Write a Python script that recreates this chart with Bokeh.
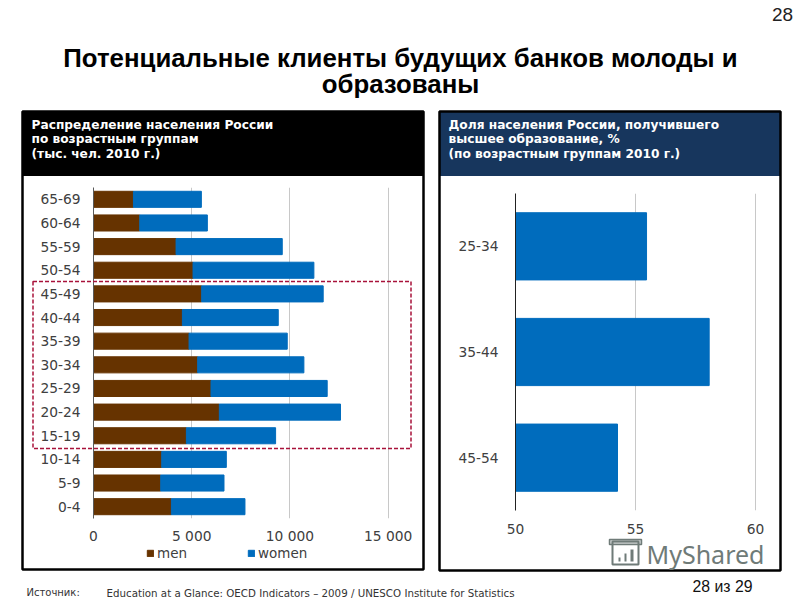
from bokeh.plotting import figure
from bokeh.layouts import column
from bokeh.models import (ColumnDataSource, FactorRange, FixedTicker, Legend, LegendItem, Range1d)
from bokeh.embed import file_html
from bokeh.resources import INLINE
from bokeh.core.properties import value

# ---------- data ----------
ages = ["0-4", "5-9", "10-14", "15-19", "20-24", "25-29", "30-34", "35-39",
        "40-44", "45-49", "50-54", "55-59", "60-64", "65-69"]
men = [3966, 3424, 3475, 4729, 6407, 5983, 5305, 4865, 4526, 5509, 5068, 4204, 2356, 2034]
women = [3746, 3220, 3288, 4543, 6170, 5916, 5407, 5000, 4881, 6186, 6153, 5407, 3441, 3458]
pop_ticks = [0, 5000, 10000, 15000]
pop_tick_labels = ["0", "5 000", "10 000", "15 000"]

edu_groups = ["45-54", "35-44", "25-34"]
edu_share = [54.25, 58.07, 55.46]
edu_ticks = [50, 55, 60]

title_lines = ["Потенциальные клиенты будущих банков молоды и", "образованы"]
left_head = ["Распределение населения России", "по возрастным группам", "(тыс. чел. 2010 г.)"]
right_head = ["Доля населения России, получившего", "высшее образование, %", "(по возрастным группам 2010 г.)"]

MEN_C, WOMEN_C = "#663300", "#006cbd"
AXIS_FONT = "DejaVu Sans"
W, H = 800, 600


def sheet():
    f = figure(width=W, height=H, x_range=Range1d(0, W), y_range=Range1d(H, 0),
               output_backend="svg", toolbar_location=None, min_border=0, frame_align=False,
               x_axis_type=None, y_axis_type=None, outline_line_color=None,
               background_fill_color=None, border_fill_color=None)
    f.grid.visible = False
    return f


def put(f, x, y, txt, size, color="#000000", font="Liberation Sans", style="normal", align="left", alpha=1):
    f.text([x], [y], text=[txt], text_font=value(font), text_font_size=size, text_color=color,
           text_font_style=style, text_align=align, text_baseline="middle", text_alpha=alpha)


def box(f, l, t, r, b, **kw):
    f.quad(left=[l], right=[r], top=[t], bottom=[b], **kw)


def place(f, x, y):
    f.styles = {"position": "absolute", "left": f"{x}px", "top": f"{y}px"}


# ---------- background sheet ----------
bg = sheet()
bg.background_fill_color = "#ffffff"
put(bg, 400, 57, title_lines[0], "25.8px", style="bold", align="center")
put(bg, 400, 83, title_lines[1], "25.8px", style="bold", align="center")
put(bg, 782, 14, "28", "19px", color="#222222", align="center")
put(bg, 26, 592, "Источник:", "10px", color="#333333", font="DejaVu Sans")
put(bg, 106, 592, "Education at a Glance: OECD Indicators – 2009 / UNESCO Institute for Statistics",
    "10.27px", color="#333333", font="DejaVu Sans")
put(bg, 722, 586, "28 из 29", "15.8px", color="#111111", align="center")

for (l, r, b, col, lines) in [(22, 423, 569, "#000000", left_head), (439, 780, 570, "#17365d", right_head)]:
    box(bg, l, 111, r, 175, fill_color=col, line_color=col)
    box(bg, l, 111, r, b, fill_alpha=0, line_color="#000000", line_width=2.5)
    for yy, txt in zip([124, 138, 153], lines):
        put(bg, l + 9, yy, txt, "12.2px", color="#ffffff", font="DejaVu Sans", style="bold")

d_men = bg.quad(left=[float("nan")], right=[float("nan")], top=[float("nan")], bottom=[float("nan")],
                fill_color=MEN_C, line_color=MEN_C)
d_wom = bg.quad(left=[float("nan")], right=[float("nan")], top=[float("nan")], bottom=[float("nan")],
                fill_color=WOMEN_C, line_color=WOMEN_C)
leg = Legend(items=[LegendItem(label="men", renderers=[d_men]), LegendItem(label="women", renderers=[d_wom])],
             orientation="horizontal", location=(146, 39), background_fill_alpha=0, border_line_color=None,
             padding=0, margin=0, spacing=60, glyph_width=8, glyph_height=8, label_standoff=3,
             label_text_font=AXIS_FONT, label_text_font_size="13.5px", label_text_color="#404040")
bg.add_layout(leg)


def style_axes(f, line_col, standoff_y, standoff_x):
    for ax in (f.xaxis[0], f.yaxis[0]):
        ax.major_tick_line_color = None
        ax.minor_tick_line_color = None
        ax.major_label_text_font = AXIS_FONT
        ax.major_label_text_font_size = "13.8px"
        ax.major_label_text_color = "#404040"
    f.xaxis[0].axis_line_color = None
    f.yaxis[0].axis_line_color = line_col
    f.yaxis[0].major_label_standoff = standoff_y
    f.xaxis[0].major_label_standoff = standoff_x
    f.ygrid.visible = False
    f.xgrid.grid_line_color = "#c8c8c8"
    f.xgrid.grid_line_width = 1


# ---------- left chart ----------
lx0, lx1, ly0, ly1 = 30, 420, 180, 562
left = figure(width=lx1 - lx0, height=ly1 - ly0, output_backend="svg", toolbar_location=None, frame_align=False,
              y_range=FactorRange(factors=ages, range_padding=0),
              x_range=Range1d(0, 307 / 98.2 * 5000),
              min_border_left=93 - lx0, min_border_right=lx1 - 400,
              min_border_top=187 - ly0, min_border_bottom=ly1 - 518,
              outline_line_color=None, background_fill_color=None, border_fill_color=None)
src = ColumnDataSource(dict(age=ages, men=men, women=women))
left.hbar_stack(["men", "women"], y="age", height=0.68, color=[MEN_C, WOMEN_C], source=src)
left.xaxis[0].ticker = FixedTicker(ticks=pop_ticks)
left.xaxis[0].major_label_overrides = dict(zip(pop_ticks, pop_tick_labels))
style_axes(left, "#595959", 7, 3)
place(left, lx0, ly0)

# ---------- right chart ----------
rx0, rx1, ry0, ry1 = 445, 775, 180, 556
right = figure(width=rx1 - rx0, height=ry1 - ry0, output_backend="svg", toolbar_location=None, frame_align=False,
               y_range=FactorRange(factors=edu_groups, range_padding=0),
               x_range=Range1d(50, 50 + 255 / 24),
               min_border_left=515 - rx0, min_border_right=rx1 - 770,
               min_border_top=193 - ry0, min_border_bottom=ry1 - 510,
               outline_line_color=None, background_fill_color=None, border_fill_color=None)
right.hbar(y=edu_groups, left=50, right=edu_share, height=0.636, color=WOMEN_C)
right.xaxis[0].ticker = FixedTicker(ticks=edu_ticks)
style_axes(right, "#222222", 11, 7)
place(right, rx0, ry0)

# ---------- top sheet: highlight box and watermark ----------
top = sheet()
box(top, 32.5, 281, 410.5, 448, fill_alpha=0, line_color="#a8123a", line_width=1.5, line_dash="4 2")
WM = "#6f7b78"
put(top, 646, 553, "MyShared", "25px", color=WM, font="Noto Sans")
box(top, 612, 541, 638, 564, fill_alpha=0, line_color=WM, line_width=2)
box(top, 609, 539, 641, 544, fill_color=WM, fill_alpha=0.35, line_color=WM, line_width=1.5)
box(top, 618, 557, 620, 561, fill_color=WM, line_color=None)
box(top, 624, 553, 626, 561, fill_color=WM, line_color=None)
box(top, 630, 549, 633, 561, fill_color=WM, line_color=None)
place(top, 0, 0)

page = column(bg, left, right, top, spacing=0, width=W, height=H)
open("out.html", "w").write(file_html(page, INLINE))
